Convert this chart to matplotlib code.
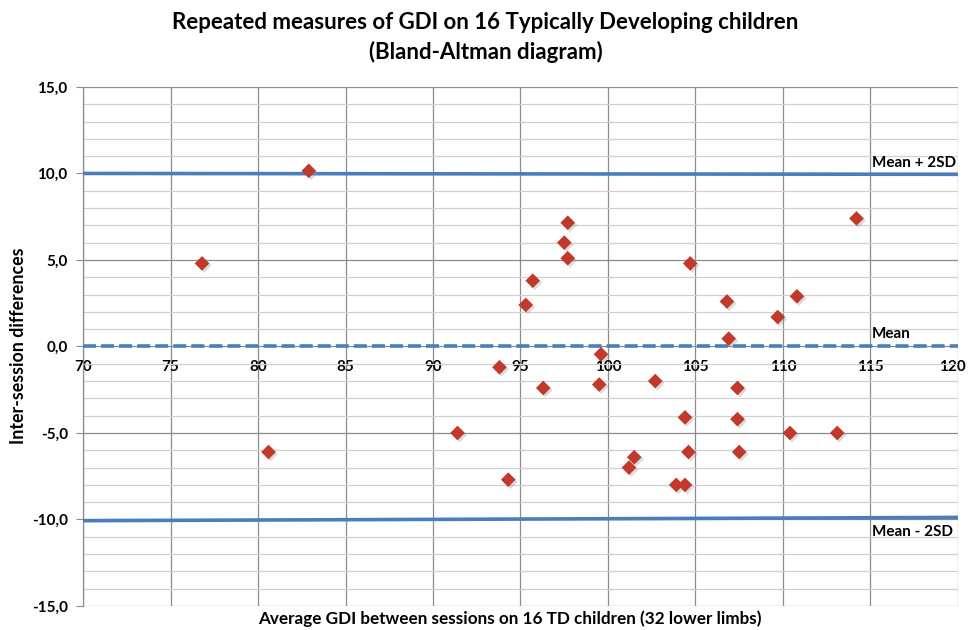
import matplotlib
matplotlib.use("Agg")
import matplotlib.pyplot as plt
import matplotlib.transforms as mtransforms
from matplotlib.ticker import MultipleLocator, FuncFormatter

plt.rcParams['font.family'] = ['Lato', 'DejaVu Sans']

# Data: average GDI between sessions (x) vs inter-session difference (y)
avg_gdi = [76.8, 80.6, 82.9, 91.4, 93.8, 94.3, 95.3, 95.7, 96.3, 97.5, 97.7, 97.7,
           99.6, 99.5, 101.2, 101.5, 102.7, 103.9, 104.4, 104.4, 104.6, 104.7,
           106.8, 106.9, 107.4, 107.4, 107.5, 109.7, 110.4, 110.8, 113.1, 114.2]
diff = [4.8, -6.1, 10.15, -5.0, -1.2, -7.7, 2.4, 3.8, -2.4, 6.0, 7.15, 5.1,
        -0.45, -2.2, -7.0, -6.4, -2.0, -8.0, -8.0, -4.1, -6.1, 4.8,
        2.6, 0.45, -2.4, -4.2, -6.1, 1.7, -5.0, 2.9, -5.0, 7.4]

line_x = [70, 120]
upper_y = [10.0, 9.95]
mean_y = [0.0, 0.0]
lower_y = [-10.07, -9.88]

x_ticks = [70, 75, 80, 85, 90, 95, 100, 105, 110, 115, 120]
y_ticks = [-15, -10, -5, 0, 5, 10, 15]

fig = plt.figure(figsize=(9.69, 6.30), dpi=100)
ax = fig.add_axes([0.0857, 0.0381, 0.9029, 0.8239])

blue = '#4A7EBB'
ax.plot(line_x, upper_y, color=blue, lw=2.6, zorder=3, solid_capstyle='butt')
ax.plot(line_x, lower_y, color=blue, lw=2.6, zorder=3, solid_capstyle='butt')
ax.plot(line_x, mean_y, color=blue, lw=2.6, ls=(0, (3.6, 1.4)), zorder=3)

ax.scatter([x + 0.12 for x in avg_gdi], [y - 0.12 for y in diff], marker='D', s=56,
           color='#999999', alpha=0.35, edgecolors='none', zorder=4)
ax.scatter(avg_gdi, diff, marker='D', s=56, color='#C0392B', edgecolors='none', zorder=5)

ax.text(115.1, 10.6, 'Mean + 2SD', fontsize=11, fontweight='bold', va='center', ha='left', zorder=6)
ax.text(115.1, 0.7, 'Mean', fontsize=11, fontweight='bold', va='center', ha='left', zorder=6)
ax.text(115.1, -10.7, 'Mean - 2SD', fontsize=11, fontweight='bold', va='center', ha='left', zorder=6)

ax.set_xlim(70, 120)
ax.set_ylim(-15, 15)
ax.set_xticks(x_ticks)
ax.set_yticks(y_ticks)
ax.yaxis.set_minor_locator(MultipleLocator(1))
ax.yaxis.set_major_formatter(FuncFormatter(lambda v, p: f"{v:.1f}".replace('.', ',')))

ax.grid(which='major', axis='both', color='#8C8C8C', lw=0.9, zorder=0)
ax.grid(which='minor', axis='y', color='#D0D0D0', lw=0.9, zorder=0)
ax.set_axisbelow(True)

for s in ['top', 'right']:
    ax.spines[s].set_visible(False)
ax.spines['left'].set_color('#8C8C8C')
ax.spines['left'].set_linewidth(0.9)
ax.spines['bottom'].set_position(('data', 0))
ax.spines['bottom'].set_visible(False)

ax.tick_params(axis='x', which='both', length=0, pad=10, labelsize=11)
ax.tick_params(axis='y', which='major', length=5, color='#8C8C8C', pad=6, labelsize=11)
ax.tick_params(axis='y', which='minor', length=0)
xlabels = ax.get_xticklabels()
for lab in xlabels + ax.get_yticklabels():
    lab.set_fontweight('bold')
# keep the last x label inside the figure
last = xlabels[-1]
last.set_transform(last.get_transform() +
                   mtransforms.ScaledTranslation(-6 / 100, 0, fig.dpi_scale_trans))

fig.text(0.501, 0.965, 'Repeated measures of GDI on 16 Typically Developing children',
         ha='center', va='center', fontsize=16, fontweight='bold')
fig.text(0.501, 0.917, '(Bland-Altman diagram)',
         ha='center', va='center', fontsize=16, fontweight='bold')
fig.text(0.526, 0.0175, 'Average GDI between sessions on 16 TD children (32 lower limbs)',
         ha='center', va='center', fontsize=12.3, fontweight='bold')
fig.text(0.019, 0.451, 'Inter-session differences', rotation=90,
         ha='center', va='center', fontsize=12.8, fontweight='bold')

fig.savefig('out.png', dpi=100, facecolor='white')
